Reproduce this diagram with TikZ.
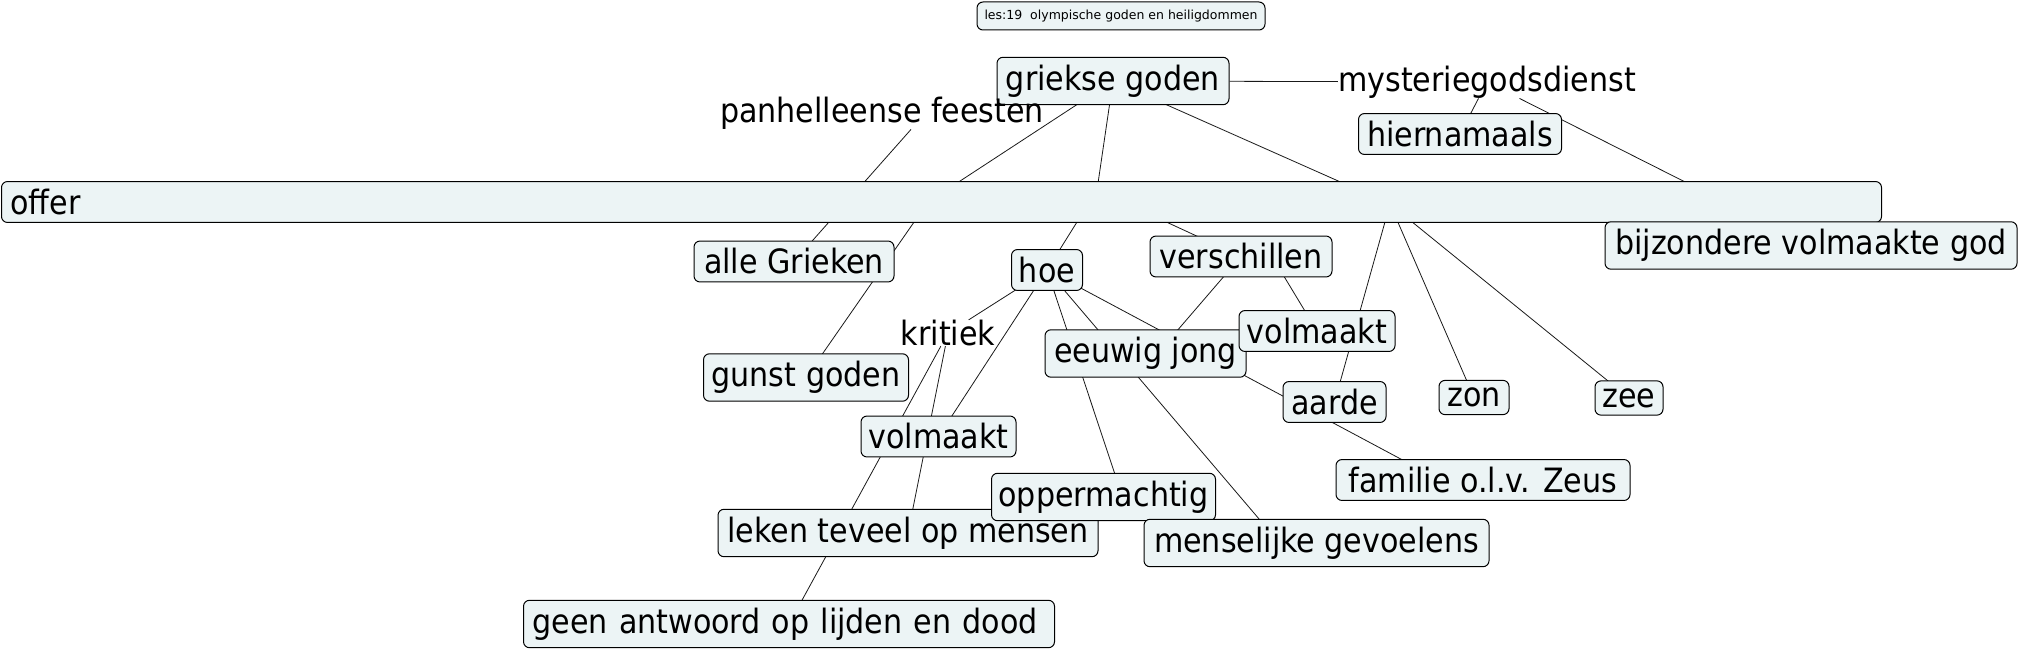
\documentclass[tikz,border=0pt]{standalone}
\usepackage{fontspec}
\setmainfont{DejaVu Sans Condensed}
\newfontfamily\titlefont{DejaVu Sans}
\usetikzlibrary{calc,backgrounds}
\definecolor{boxfill}{RGB}{236,244,245}
\begin{document}
\begin{tikzpicture}[x=1pt,y=-1pt,
  every node/.style={font=\fontsize{33.5}{40}\selectfont},
  cbox/.style={draw=black, line width=1pt, fill=boxfill, rounded corners=6pt, inner xsep=7pt, inner ysep=7.5pt},
  plain/.style={inner sep=0pt},
  link/.style={line width=0.8pt, draw=black!90}]
\useasboundingbox (0,0) rectangle (2020,650);
% nodes
\node[cbox, font=\titlefont\fontsize{12.5}{15}\selectfont, minimum width=288pt, minimum height=28pt, inner ysep=3pt] (title) at (1121,16) {les:19\ \ olympische goden en heiligdommen};
\node[cbox, minimum width=232pt] (gg) at (1113,81) {griekse goden};
\node[plain] (panh) at (882,113) {panhelleense feesten};
\node[plain] (myst) at (1487,82) {mysteriegodsdienst};
\node[cbox, minimum width=203pt] (hier) at (1460,134) {hiernamaals};
\node[cbox, anchor=west, text width=1862pt, inner xsep=9pt, align=left] (offer) at (1,202) {offer};
\node[cbox, minimum width=412pt] (bvg) at (1811,245.5) {bijzondere volmaakte god};
\node[cbox, minimum width=200pt] (ag) at (794,261.5) {alle Grieken};
\node[cbox, minimum width=205pt] (gunst) at (806,377.5) {gunst goden};
\node[cbox, minimum width=71pt] (hoe) at (1047,270) {hoe};
\node[cbox, minimum width=182pt] (versch) at (1241,256.5) {verschillen};
\node[cbox, minimum width=201pt] (ej) at (1145.5,353.5) {eeuwig jong};
\node[cbox, minimum width=156pt] (volR) at (1317,331) {volmaakt};
\node[plain] (krit) at (948,333) {kritiek};
\node[cbox, minimum width=103pt] (aarde) at (1334.5,402) {aarde};
\node[cbox, minimum width=70pt] (zon) at (1474,397.5) {zon};
\node[cbox, minimum width=68pt] (zee) at (1629,398) {zee};
\node[cbox, minimum width=155pt] (volL) at (938.5,436.5) {volmaakt};
\node[cbox, minimum width=380pt] (leken) at (908,533) {leken teveel op mensen};
\node[cbox, minimum width=224pt] (opp) at (1103.5,497) {oppermachtig};
\node[cbox, minimum width=345pt] (mg) at (1316.5,543) {menselijke gevoelens};
\node[cbox, minimum width=294pt] (fam) at (1483,480) {familie o.l.v. Zeus};
\node[cbox, anchor=west, text width=513pt, inner xsep=9pt, align=left] (geen) at (523,624) {geen antwoord op lijden en dood};
% hidden junctions behind the offer box
\coordinate (H1) at (1097,190);
\coordinate (H2) at (1390,204);
\coordinate (P) at (928,202);
\begin{scope}[on background layer]
\draw[link] (gg) -- (myst);
\draw[link] (myst) -- (hier.center);
\draw[link] (myst) -- (bvg.center);
\draw[link] (gg.center) -- (P);
\draw[link] (P) -- (gunst.center);
\draw[link] (gg.center) -- (H1) -- (hoe.center);
\draw[link] (H1) -- (versch.center);
\draw[link] (gg.center) -- (H2);
\draw[link] (H2) -- (aarde.center);
\draw[link] (H2) -- (zon.center);
\draw[link] (H2) -- (zee.center);
\draw[link] ($(panh.south)+(29,0)$) -- (ag.center);
\draw[link] (hoe.center) -- (krit);
\draw[link] (hoe.center) -- (volL.center);
\draw[link] (hoe.center) -- ($(opp.center)+(19,0)$);
\draw[link] (hoe.center) -- ($(mg.center)+(-37,0)$);
\draw[link] (hoe.center) -- ($(fam.center)+(-43,0)$);
\draw[link] (versch.center) -- ($(ej.center)+(12,0)$);
\draw[link] ($(versch.center)+(31,0)$) -- (volR.center);
\draw[link] (krit) -- (leken.center);
\draw[link] (krit) -- (geen.center);
\end{scope}
\end{tikzpicture}
\end{document}
